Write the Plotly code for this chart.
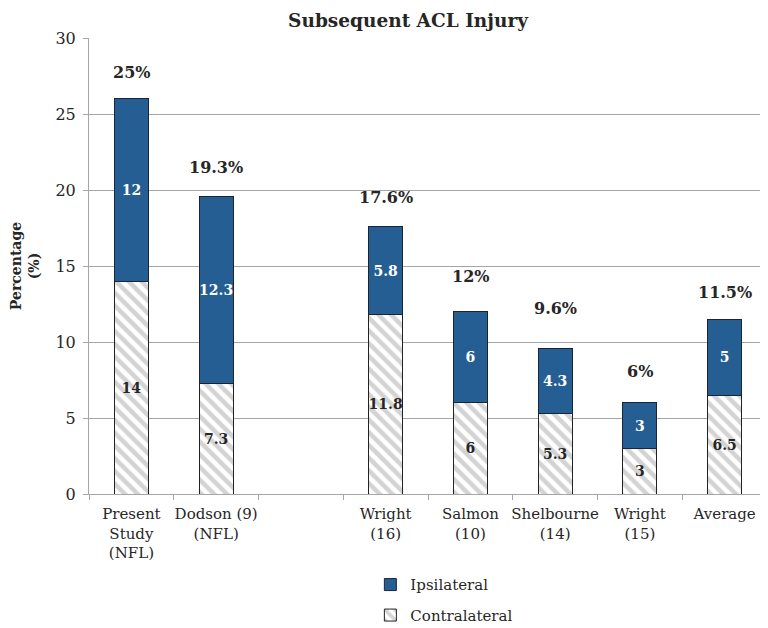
import plotly.graph_objects as go

categories = ["Present<br>Study<br>(NFL)", "Dodson (9)<br>(NFL)", " ", "Wright<br>(16)",
              "Salmon<br>(10)", "Shelbourne<br>(14)", "Wright<br>(15)", "Average"]
contralateral = [14, 7.3, None, 11.8, 6, 5.3, 3, 6.5]
ipsilateral = [12, 12.3, None, 5.8, 6, 4.3, 3, 5]
total_labels = ["25%", "19.3%", "", "17.6%", "12%", "9.6%", "6%", "11.5%"]
label_offsets_px = [25, 27, 0, 27, 34, 38, 30, 25]

SERIF = "DejaVu Serif"
BLUE = "#255E92"
TXT = "#262626"

fig = go.Figure()
fig.add_trace(go.Bar(
    x=categories, y=contralateral, name="Contralateral",
    legendgroup="c", legendrank=2, width=0.4,
    marker=dict(color="white",
                pattern=dict(shape="\\", fgcolor="#a8a8a8", bgcolor="white", size=9, solidity=0.5),
                line=dict(color="#222222", width=1)),
    text=[("%g" % v) if v is not None else "" for v in contralateral],
    textposition="inside", insidetextanchor="middle", textangle=0, constraintext="none",
    textfont=dict(family=SERIF, size=14, color=TXT, weight="bold"),
    hoverinfo="skip",
))
fig.add_trace(go.Bar(
    x=categories, y=ipsilateral, name="Ipsilateral",
    legendgroup="i", legendrank=1, width=0.4,
    marker=dict(color=BLUE, line=dict(color="#1c2433", width=1)),
    text=[("%g" % v) if v is not None else "" for v in ipsilateral],
    textposition="inside", insidetextanchor="middle", textangle=0, constraintext="none",
    textfont=dict(family=SERIF, size=14, color="white", weight="bold"),
    hoverinfo="skip",
))

for cat, c, i, lab, off in zip(categories, contralateral, ipsilateral, total_labels, label_offsets_px):
    if not lab:
        continue
    fig.add_annotation(x=cat, y=c + i, text=lab, showarrow=False,
                       yanchor="bottom", yshift=off - 10,
                       font=dict(family=SERIF, size=16, color=TXT, weight="bold"))

fig.update_layout(
    width=760, height=620,
    barmode="stack",
    plot_bgcolor="white", paper_bgcolor="white",
    margin=dict(l=81, r=1, t=30, b=134, autoexpand=False),
    title=dict(text="<b>Subsequent ACL Injury</b>", x=400/760, xanchor="center",
               y=0.99, yanchor="top", automargin=False,
               font=dict(family=SERIF, size=18.5, color=TXT)),
    showlegend=True,
    legend=dict(orientation="v", x=0.415, xanchor="left", y=-0.163, yanchor="top",
                traceorder="grouped", tracegroupgap=8, itemwidth=30,
                font=dict(family=SERIF, size=15, color=TXT),
                bgcolor="rgba(0,0,0,0)"),
    bargap=0.6,
)
fig.update_yaxes(range=[0, 30], tick0=0, dtick=5, showgrid=True, gridcolor="#a6a6a6", gridwidth=1,
                 showline=True, linecolor="#a6a6a6", linewidth=1, ticks="outside", ticklen=5,
                 tickcolor="#a6a6a6", zeroline=False, automargin=False,
                 tickfont=dict(family=SERIF, size=16, color=TXT), ticklabelstandoff=4,
                 title=dict(text="<b>Percentage<br>(%)</b>", standoff=18,
                            font=dict(family=SERIF, size=14, color=TXT)))
fig.update_xaxes(showline=True, linecolor="#a6a6a6", linewidth=1, ticks="outside", ticklen=5,
                 tickcolor="#a6a6a6", tickson="boundaries", showgrid=False, automargin=False,
                 ticklabelstandoff=6,
                 tickfont=dict(family=SERIF, size=15, color=TXT), tickangle=0)

fig.write_html("out.html")
